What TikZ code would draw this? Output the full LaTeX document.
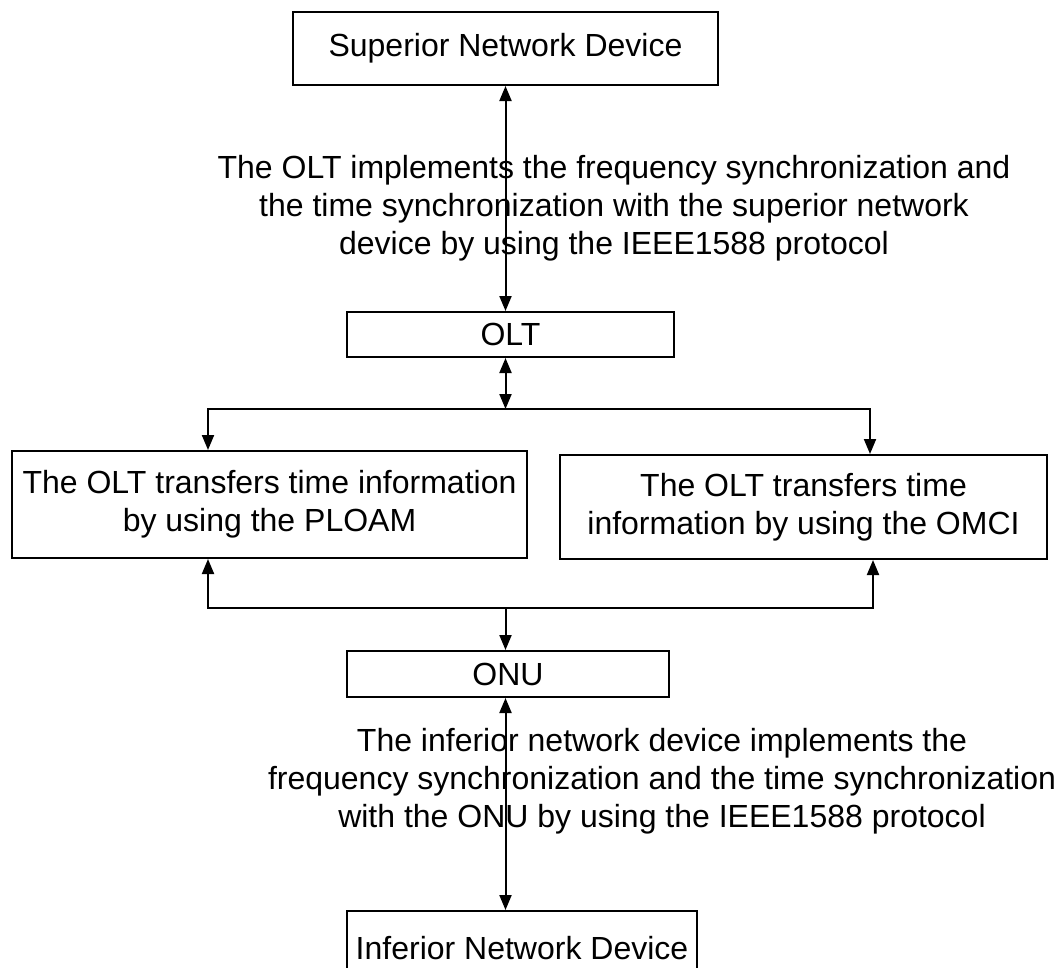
\documentclass[tikz,border=0pt]{standalone}
\usepackage{fontspec}
\setmainfont{Liberation Sans}
\usetikzlibrary{arrows.meta}

\begin{document}
\begin{tikzpicture}[x=1pt,y=-1pt]
    \tikzstyle{every node}+=[inner sep=0pt, font=\fontsize{32}{38}\selectfont]
    \tikzstyle{box}=[draw=black, line width=2pt, align=center]
    \tikzstyle{wire}=[black, line width=2pt]
    \tikzstyle{arr}=[wire, -{Triangle[length=15pt,width=12pt]}]
    \tikzstyle{link}=[wire, {Triangle[length=15pt,width=12pt]}-{Triangle[length=15pt,width=12pt]}]
    \useasboundingbox (0,0) rectangle (1062,967);
    \node [box, minimum width=425, minimum height=73] (sup) at (505.5,48.5) {Superior Network Device};
    \node [box, minimum width=327, minimum height=45] (olt) at (510.5,334.5) {OLT};
    \node [box, minimum width=515, minimum height=107] (ploam) at (269.5,504.5) {The OLT transfers time information\\by using the PLOAM};
    \node [box, minimum width=487, minimum height=104] (omci) at (803.5,507) {The OLT transfers time\\information by using the OMCI};
    \node [box, minimum width=322, minimum height=46] (onu) at (508,674) {ONU};
    \node [box, minimum width=350, minimum height=74] (inf) at (522,948) {Inferior Network Device};
    \node [align=center] (uptext) at (614,208) {The OLT implements the frequency synchronization and\\the time synchronization with the superior network\\device by using the IEEE1588 protocol};
    \node [align=center] (downtext) at (662,781) {The inferior network device implements the\\frequency synchronization and the time synchronization\\with the ONU by using the IEEE1588 protocol};
    \coordinate (split) at (505.5,409);
    \coordinate (splitL) at (208,409);
    \coordinate (splitR) at (870,409);
    \coordinate (join) at (505.5,608);
    \coordinate (joinL) at (208,608);
    \coordinate (joinR) at (873,608);
    \draw [link] (sup.south -| split) -- (olt.north -| split);
    \draw [link] (olt.south -| split) -- (split);
    \draw [link] (splitL |- ploam.north) -- (splitL) -- (splitR) -- (splitR |- omci.north);
    \draw [link] (joinL |- ploam.south) -- (joinL) -- (joinR) -- (joinR |- omci.south);
    \draw [arr] (join) -- (onu.north -| join);
    \draw [link] (onu.south -| join) -- (inf.north -| join);
\end{tikzpicture}
\end{document}
